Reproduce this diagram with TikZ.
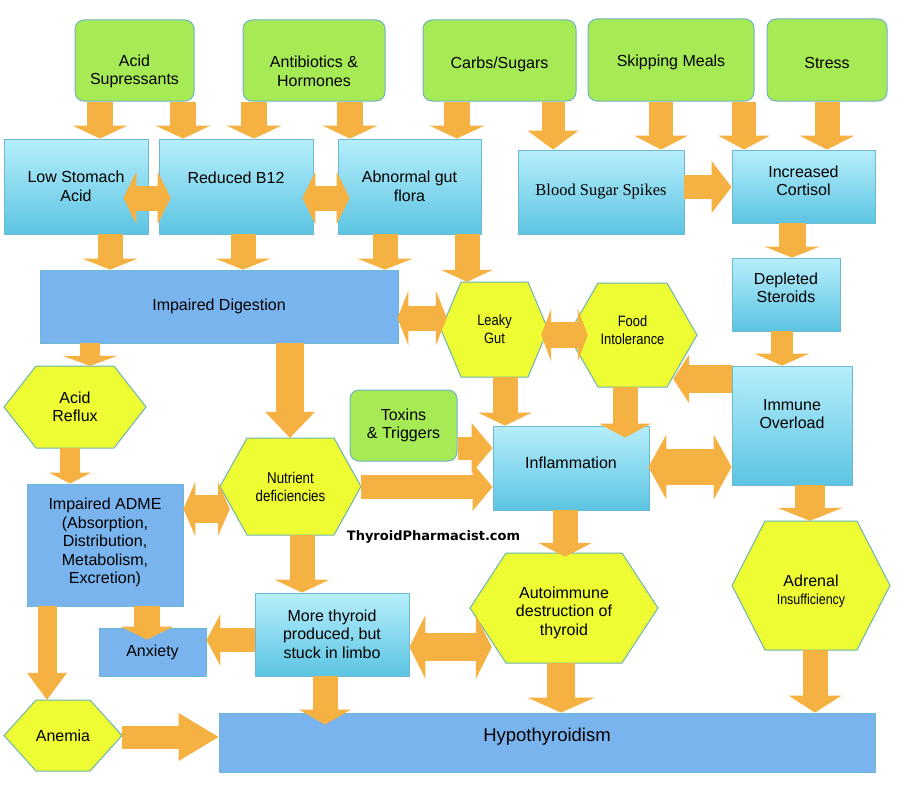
\documentclass[tikz,border=0pt]{standalone}
\usepackage{fontspec}
\setmainfont{Liberation Sans}
\newfontfamily\bssfont{Liberation Serif}
\newfontfamily\narrowfont[FakeStretch=0.86]{Liberation Sans}
\newfontfamily\wmfont{DejaVu Sans}
\usetikzlibrary{arrows.meta,calc}
\newcommand\fsz[2]{\fontsize{#1pt}{#2pt}\selectfont}
\definecolor{grn}{RGB}{166,235,86}
\definecolor{grnb}{RGB}{112,178,196}
\definecolor{lbt}{RGB}{182,238,251}
\definecolor{lbb}{RGB}{92,196,226}
\definecolor{lbd}{RGB}{110,185,210}
\definecolor{mb}{RGB}{122,180,238}
\definecolor{ylw}{RGB}{238,252,52}
\definecolor{ylwb}{RGB}{110,180,175}
\definecolor{org}{RGB}{245,177,66}
\tikzset{
 gbox/.style={draw=grnb, line width=1pt, fill=grn, rounded corners=9pt, align=center, inner sep=0pt, font=\fsz{16}{18.5}},
 lbox/.style={draw=lbd, line width=0.8pt, top color=lbt, bottom color=lbb, align=center, inner sep=0pt, font=\fsz{16}{18.5}},
 mbox/.style={draw=lbd, line width=0.8pt, fill=mb, align=center, inner sep=0pt, font=\fsz{16}{18.5}},
 hexfill/.style={draw=ylwb, line width=1pt, fill=ylw},
 sz/.style 2 args={minimum width=#1pt, minimum height=#2pt},
 blk/.style n args={3}{draw=org, line width=#1pt, -{Triangle[width=#2pt, length=#3pt, line width=0pt]}},
 dblk/.style n args={3}{draw=org, line width=#1pt, {Triangle[width=#2pt, length=#3pt, line width=0pt]}-{Triangle[width=#2pt, length=#3pt, line width=0pt]}},
}
% optional node options, name, x, y, w, h, inset, font, text
\newcommand\hexa[9][]{%
 \filldraw[hexfill] ({#3-#5/2},#4) -- ({#3-#5/2+#7},{#4-#6/2}) -- ({#3+#5/2-#7},{#4-#6/2}) -- ({#3+#5/2},#4) -- ({#3+#5/2-#7},{#4+#6/2}) -- ({#3-#5/2+#7},{#4+#6/2}) -- cycle;
 \node[minimum width=#5pt, minimum height=#6pt, inner sep=0pt, align=center, font=#8, #1] (#2) at (#3,#4) {#9};}
\begin{document}
\begin{tikzpicture}[x=1pt,y=-1pt]
\useasboundingbox (0,0) rectangle (912,800);
\fill[white] (0,0) rectangle (912,800);
% green source boxes
\node[gbox, sz={119}{81}, text height=52pt] (acid) at (134.5,60.5) {Acid\\Supressants};
\node[gbox, sz={142}{81}, text height=52pt] (anti) at (314,60.5) {Antibiotics \&\\Hormones};
\node[gbox, sz={153}{81}, text height=19pt] (carbs) at (499.5,60.5) {Carbs/Sugars};
\node[gbox, sz={166}{82}, text height=17pt] (skip) at (671,60) {Skipping Meals};
\node[gbox, sz={120}{82}, text height=17pt] (stress) at (827,60) {Stress};
\node[gbox, sz={107}{71}] (toxins) at (403.5,425.5) {Toxins\\\& Triggers};
% light blue boxes
\node[lbox, sz={144}{95}] (low) at (76,186.5) {Low Stomach\\Acid};
\node[lbox, sz={154}{95}, text depth=17pt] (b12) at (236,186.5) {Reduced B12};
\node[lbox, sz={143}{95}] (gut) at (409.5,186.5) {Abnormal gut\\flora};
\node[lbox, sz={166}{84}, font=\bssfont\fsz{16.5}{19}] (bss) at (601,192) {Blood Sugar Spikes};
\node[lbox, sz={143}{73}, text depth=12pt] (cort) at (803.5,186.5) {Increased\\Cortisol};
\node[lbox, sz={108}{73}, text depth=14pt] (depl) at (786,294.5) {Depleted\\Steroids};
\node[lbox, sz={120}{119}, text depth=23pt] (immune) at (792,425.5) {Immune\\Overload};
\node[lbox, sz={156}{84}, text depth=10pt] (infl) at (571,468) {Inflammation};
\node[lbox, sz={154}{83}, text depth=1pt] (more) at (332,634.5) {More thyroid\\produced, but\\stuck in limbo};
% medium blue boxes
\node[mbox, sz={358}{73}] (dig) at (219,306.5) {Impaired Digestion};
\node[mbox, sz={156}{122}, text depth=8pt] (adme) at (105,545) {Impaired ADME\\(Absorption,\\Distribution,\\Metabolism,\\Excretion)};
\node[mbox, sz={107}{48}] (anx) at (152.5,652) {Anxiety};
\node[mbox, sz={656}{59}, text depth=15pt, font=\fsz{18.5}{21}] (hypo) at (547,742.5) {Hypothyroidism};
% hexagons
\hexa{leaky}{494.5}{329.5}{107}{95}{20}{\narrowfont\fsz{15}{18}}{Leaky\\Gut}
\hexa[text depth=10pt]{food}{632.5}{335}{129}{104}{30}{\narrowfont\fsz{15}{18}}{Food\\Intolerance}
\hexa{reflux}{75}{407}{142}{82}{32}{\fsz{16}{18}}{Acid\\Reflux}
\hexa{nutr}{290.5}{486.5}{141}{97}{27}{\narrowfont\fsz{15.5}{18}}{Nutrient\\deficiencies}
\hexa[text height=58pt]{auto}{564}{608}{188}{110}{36}{\fsz{16}{18.5}}{Autoimmune\\destruction of\\thyroid}
\hexa[text height=40pt]{adrenal}{811}{585.5}{158}{129}{33}{\fsz{16}{18}}{Adrenal\\{\narrowfont\fsz{14.5}{18}Insufficiency}}
\hexa{anemia}{63}{735.5}{118}{71}{32}{\fsz{16}{18}}{Anemia}
% arrows from top row
\draw[blk={26}{55}{13}] (acid.south -| 100,0) -- (low.north -| 100,0);
\draw[blk={26}{55}{13}] (acid.south -| 183,0) -- (b12.north -| 183,0);
\draw[blk={26}{55}{13}] (anti.south -| 254,0) -- (b12.north -| 254,0);
\draw[blk={26}{55}{13}] (anti.south -| 350,0) -- (gut.north -| 350,0);
\draw[blk={26}{55}{13}] (carbs.south -| 457,0) -- (gut.north -| 457,0);
\draw[blk={23}{51}{19}] (carbs.south -| 553,0) -- (bss.north -| 553,0);
\draw[blk={24}{54}{14}] (skip.south -| 661,0) -- (bss.north -| 661,0);
\draw[blk={24}{52}{14}] (skip.south -| 744,0) -- (cort.north -| 744,0);
\draw[blk={25}{55}{14}] (stress.south -| 827,0) -- (cort.north -| 827,0);
% second row
\draw[dblk={25}{53}{13}] ($(low.east |- 0,198)+(-25,0)$) -- ($(b12.west |- 0,198)+(12,0)$);
\draw[dblk={25}{53}{13}] ($(b12.east |- 0,198)+(-11,0)$) -- ($(gut.west |- 0,198)+(12,0)$);
\draw[blk={24}{52}{20}] (bss.east |- 0,187) -- (cort.west |- 0,187);
\draw[blk={25}{55}{11}] (low.south -| 110,0) -- (dig.north -| 110,0);
\draw[blk={25}{55}{11}] (b12.south -| 243,0) -- (dig.north -| 243,0);
\draw[blk={25}{55}{11}] (gut.south -| 385,0) -- (dig.north -| 385,0);
\draw[blk={25}{52}{12}] (gut.south -| 467,0) -- (leaky.north -| 467,0);
\draw[blk={27}{55}{11}] (cort.south -| 792,0) -- (depl.north -| 792,0);
\draw[blk={22}{55}{12}] (depl.south -| 782,0) -- (immune.north -| 782,0);
% middle
\draw[dblk={25}{55}{11}] ($(dig.east |- 0,318)+(-1,0)$) -- ($(leaky.west |- 0,318)+(6,0)$);
\draw[dblk={26}{53}{10}] ($(leaky.east |- 0,335)+(-7,0)$) -- ($(food.west |- 0,335)+(20,0)$);
\draw[blk={28}{49}{16}] (immune.west |- 0,379) -- ($(food.east |- 0,379)+(-24,0)$);
\draw[blk={25}{54}{13}] (leaky.south -| 505,0) -- (infl.north -| 505,0);
\draw[blk={25}{52}{14}] (food.south -| 625,0) -- ($(infl.north -| 625,0)+(0,12)$);
\draw[dblk={36}{65}{18}] ($(infl.east |- 0,467)+(-1,0)$) -- (immune.west |- 0,467);
\draw[blk={23}{50}{21}] (toxins.east |- 0,448) -- (infl.west |- 0,448);
\draw[blk={24}{48}{20}] (nutr.east |- 0,487) -- (infl.west |- 0,487);
\draw[blk={20}{55}{10}] (dig.south -| 90,0) -- (reflux.north -| 90,0);
\draw[blk={28}{50}{26}] (dig.south -| 290,0) -- (nutr.north -| 290,0);
\draw[blk={20}{42}{11}] (reflux.south -| 70,0) -- (adme.north -| 70,0);
\draw[dblk={28}{55}{12}] (adme.east |- 0,509) -- ($(nutr.west |- 0,509)+(10,0)$);
\draw[blk={25}{55}{13}] (nutr.south -| 302,0) -- (more.north -| 302,0);
\draw[blk={25}{54}{14}] (infl.south -| 565,0) -- ($(auto.north -| 565,0)+(0,4)$);
\draw[blk={30}{65}{13}] (immune.south -| 810,0) -- (adrenal.north -| 810,0);
% lower
\draw[blk={26}{53}{13}] (adme.south -| 147,0) -- ($(anx.north -| 147,0)+(0,12)$);
\draw[blk={19}{40}{27}] (adme.south -| 47,0) -- (anemia.north -| 47,0);
\draw[blk={24}{52}{14}] (more.west |- 0,640) -- (anx.east |- 0,640);
\draw[dblk={28}{64}{16}] (more.east |- 0,647) -- ($(auto.west |- 0,647)+(22,0)$);
\draw[blk={25}{52}{15}] (more.south -| 325,0) -- ($(hypo.north -| 325,0)+(0,12)$);
\draw[blk={23}{48}{40}] (anemia.east |- 0,737) -- (hypo.west |- 0,737);
\draw[blk={28}{67}{15}] (auto.south -| 561,0) -- (hypo.north -| 561,0);
\draw[blk={25}{53}{17}] (adrenal.south -| 815,0) -- (hypo.north -| 815,0);
% watermark
\node[font=\wmfont\bfseries\fsz{13}{15}] (wm) at (433.5,537) {ThyroidPharmacist.com};
\end{tikzpicture}
\end{document}
